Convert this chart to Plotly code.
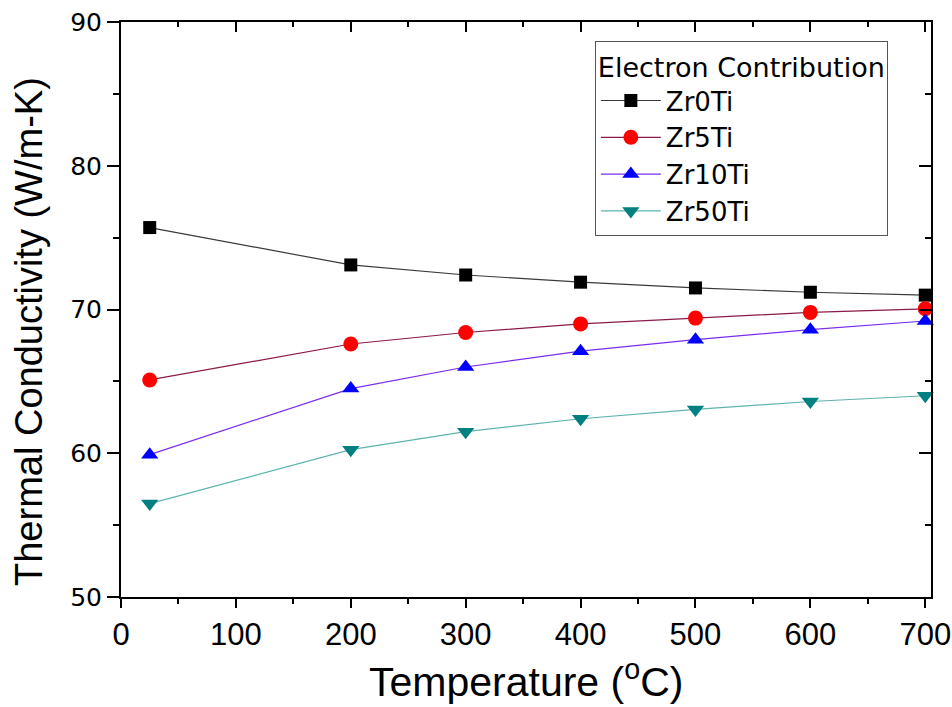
import plotly.graph_objects as go

temps = [25, 200, 300, 400, 500, 600, 700]
zr0ti = [75.7, 73.1, 72.4, 71.9, 71.5, 71.2, 71.0]
zr5ti = [65.1, 67.6, 68.4, 69.0, 69.4, 69.8, 70.05]
zr10ti = [59.9, 64.5, 66.0, 67.1, 67.9, 68.6, 69.2]
zr50ti = [56.5, 60.25, 61.5, 62.4, 63.05, 63.6, 64.0]

series_names = ["Zr0Ti", "Zr5Ti", "Zr10Ti", "Zr50Ti"]
series_vals = [zr0ti, zr5ti, zr10ti, zr50ti]
marker_colors = ["#000000", "#ff0000", "#0000ff", "#008080"]
line_colors = ["#3a3a3a", "#8b1a4a", "#7a2cf0", "#5fb3ad"]
symbols = ["square", "circle", "triangle-up", "triangle-down"]
sizes = [13, 15, 15, 15]

xticks = [0, 100, 200, 300, 400, 500, 600, 700]
yticks = [50, 60, 70, 80, 90]

fig = go.Figure()
for name, vals, mc, lc, sym, sz in zip(series_names, series_vals, marker_colors, line_colors, symbols, sizes):
    fig.add_trace(go.Scatter(
        x=temps, y=vals, name=name, mode="lines+markers",
        line=dict(color=lc, width=1.2),
        marker=dict(color=mc, symbol=sym, size=sz, line=dict(width=0)),
        cliponaxis=False,
    ))

# dummy trace for mirrored axes
fig.add_trace(go.Scatter(x=[None], y=[None], xaxis="x2", yaxis="y2", showlegend=False, hoverinfo="skip"))

xr = [0, 705]
yr = [50, 90]
fig.update_layout(
    width=952, height=707,
    margin=dict(l=121, r=21, t=22, b=110, autoexpand=False),
    paper_bgcolor="white", plot_bgcolor="white",
    showlegend=True,
    xaxis=dict(
        range=xr, tickmode="array", tickvals=xticks, ticktext=[str(t) for t in xticks],
        automargin=False,
        ticks="outside", ticklen=9, tickwidth=2, tickcolor="black",
        showline=True, linewidth=2, linecolor="black", showgrid=False, zeroline=False,
        tickfont=dict(family="Liberation Sans Narrow, Arial Narrow, Liberation Sans", size=31, color="black"),
        minor=dict(dtick=50, tick0=0, ticks="outside", ticklen=5, tickwidth=2, tickcolor="black", showgrid=False),
    ),
    yaxis=dict(
        range=yr, tickmode="array", tickvals=yticks, ticktext=[str(t) for t in yticks],
        automargin=False,
        ticks="outside", ticklen=12, tickwidth=2, tickcolor="black",
        showline=True, linewidth=2, linecolor="black", showgrid=False, zeroline=False,
        tickfont=dict(family="DejaVu Sans", size=25, color="black"),
        minor=dict(dtick=5, tick0=0, ticks="outside", ticklen=6, tickwidth=2, tickcolor="black", showgrid=False),
    ),
    xaxis2=dict(
        range=xr, overlaying="x", side="top", anchor="y", tickmode="array", tickvals=xticks,
        automargin=False,
        showticklabels=False, ticks="inside", ticklen=10, tickwidth=2, tickcolor="black",
        showline=True, linewidth=2, linecolor="black", showgrid=False, zeroline=False,
        minor=dict(dtick=50, tick0=0, ticks="inside", ticklen=5, tickwidth=2, tickcolor="black", showgrid=False),
    ),
    yaxis2=dict(
        range=yr, overlaying="y", side="right", anchor="x", tickmode="array", tickvals=yticks,
        automargin=False,
        showticklabels=False, ticks="inside", ticklen=12, tickwidth=2, tickcolor="black",
        showline=True, linewidth=2, linecolor="black", showgrid=False, zeroline=False,
        minor=dict(dtick=5, tick0=0, ticks="inside", ticklen=6, tickwidth=2, tickcolor="black", showgrid=False),
    ),
    legend=dict(
        x=0.585, y=0.967, xanchor="left", yanchor="top",
        bgcolor="white", bordercolor="#555555", borderwidth=1,
        font=dict(family="DejaVu Sans", size=26, color="black"),
        title=dict(text="Electron Contribution", font=dict(family="DejaVu Sans", size=27, color="black")),
        itemwidth=60,
    ),
    annotations=[
        dict(text="Temperature (<sup>o</sup>C)", xref="paper", yref="paper", x=0.5, y=-0.142,
             xanchor="center", yanchor="middle", showarrow=False,
             font=dict(family="Liberation Sans, Arial", size=41, color="black")),
        dict(text="Thermal Conductivity (W/m-K)", xref="paper", yref="paper", x=-0.1136, y=0.4626,
             xanchor="center", yanchor="middle", showarrow=False, textangle=-90,
             font=dict(family="Liberation Sans, Arial", size=38, color="black")),
    ],
)

fig.write_html("out.html")
